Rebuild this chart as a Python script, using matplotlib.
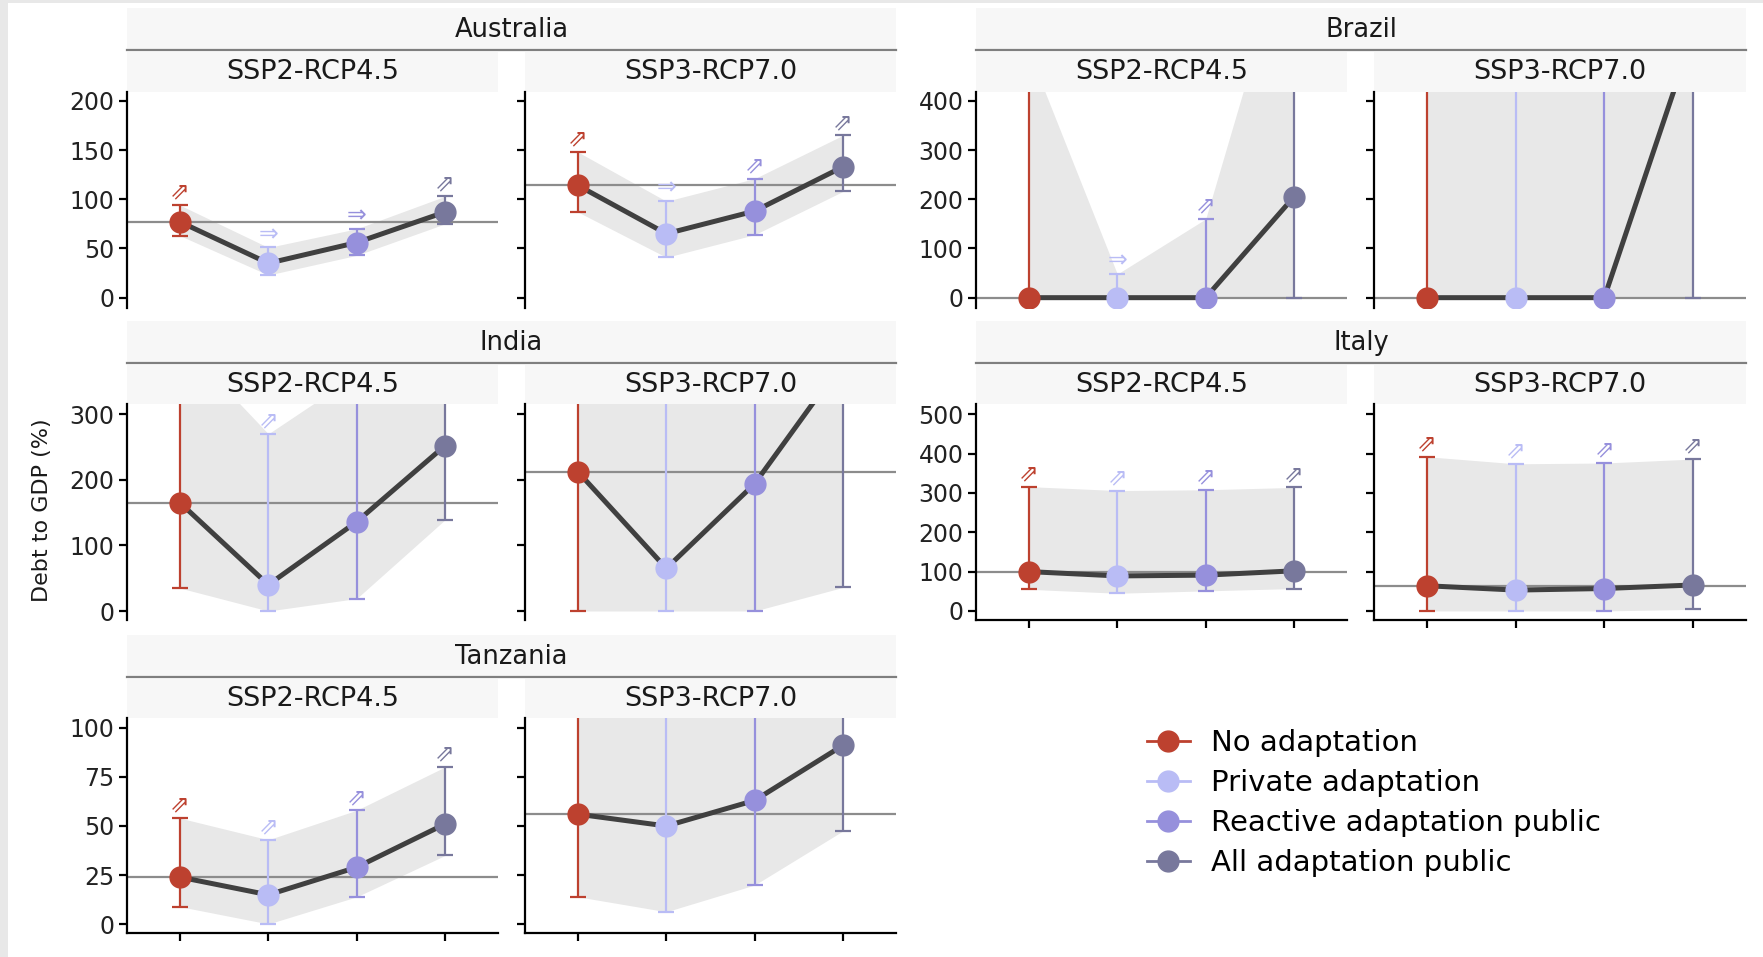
import matplotlib
matplotlib.use('Agg')
import matplotlib.pyplot as plt
from matplotlib.patches import Rectangle
from matplotlib.lines import Line2D

# Datos (deuda / PIB en %)
strategies = ['No adaptation', 'Private adaptation', 'Reactive adaptation public', 'All adaptation public']
colors = ['#bd412f', '#b9bcf5', '#9690dc', '#78789c']
scenarios = ['SSP2-RCP4.5', 'SSP3-RCP7.0']
countries = ['Australia', 'Brazil', 'India', 'Italy', 'Tanzania']

# cada lista: [SSP2-RCP4.5, SSP3-RCP7.0] x 4 estrategias
australia_median = [[77, 35, 56, 87], [114, 65, 88, 133]]
australia_lower = [[63, 23, 43, 75], [87, 41, 64, 108]]
australia_upper = [[94, 51, 70, 103], [148, 98, 121, 165]]
australia_arrow = [['⇗', '⇒', '⇒', '⇗'], ['⇗', '⇒', '⇗', '⇗']]

brazil_median = [[0, 0, 0, 205], [0, 0, 0, 535]]
brazil_lower = [[0, 0, 0, 0], [0, 0, 0, 0]]
brazil_upper = [[500, 48, 160, 770], [900, 850, 870, 1200]]
brazil_arrow = [['', '⇒', '⇗', ''], ['', '', '', '']]

india_median = [[165, 40, 136, 252], [212, 65, 194, 380]]
india_lower = [[35, 0, 19, 139], [0, 0, 0, 36]]
india_upper = [[412, 270, 360, 450], [500, 480, 520, 600]]
india_arrow = [['', '⇗', '', ''], ['', '', '', '']]

italy_median = [[100, 89, 91, 102], [64, 53, 57, 66]]
italy_lower = [[55, 45, 51, 57], [0, 0, 0, 4]]
italy_upper = [[316, 306, 308, 314], [392, 374, 376, 386]]
italy_arrow = [['⇗', '⇗', '⇗', '⇗'], ['⇗', '⇗', '⇗', '⇗']]

tanzania_median = [[24, 15, 29, 51], [56, 50, 63, 91]]
tanzania_lower = [[9, 0.2, 14, 35], [14, 6.4, 20, 47.5]]
tanzania_upper = [[54, 43, 58, 80], [130, 140, 150, 160]]
tanzania_arrow = [['⇗', '⇗', '⇗', '⇗'], ['', '', '', '']]

y_limits = {'Australia': (-10.5, 209), 'Brazil': (-21, 418), 'India': (-13.7, 315.5),
            'Italy': (-23, 526), 'Tanzania': (-4.4, 104.9)}
y_ticks = {'Australia': [0, 50, 100, 150, 200], 'Brazil': [0, 100, 200, 300, 400],
           'India': [0, 100, 200, 300], 'Italy': [0, 100, 200, 300, 400, 500],
           'Tanzania': [0, 25, 50, 75, 100]}

data = {
    'Australia': (australia_median, australia_lower, australia_upper, australia_arrow),
    'Brazil': (brazil_median, brazil_lower, brazil_upper, brazil_arrow),
    'India': (india_median, india_lower, india_upper, india_arrow),
    'Italy': (italy_median, italy_lower, italy_upper, italy_arrow),
    'Tanzania': (tanzania_median, tanzania_lower, tanzania_upper, tanzania_arrow),
}

# Layout en pixeles (desde arriba a la izquierda)
W, H = 1763, 957
col_x = [(127, 498, 525, 896), (976, 1347, 1374, 1746)]
row_y = [(8, 50, 52, 92, 308), (321, 363, 365, 404, 620), (635, 677, 679, 718, 933)]
place = {'Australia': (0, 0), 'Brazil': (0, 1), 'India': (1, 0), 'Italy': (1, 1), 'Tanzania': (2, 0)}
with_xaxis = ['Italy', 'Tanzania']

fig = plt.figure(figsize=(W / 100, H / 100), dpi=100)
fig.patch.set_facecolor('white')


def frac(x0, y0, x1, y1):
    return [x0 / W, 1 - y1 / H, (x1 - x0) / W, (y1 - y0) / H]


def add_box(x0, y0, x1, y1):
    r = Rectangle((x0 / W, 1 - y1 / H), (x1 - x0) / W, (y1 - y0) / H,
                  transform=fig.transFigure, facecolor='#f7f7f7', edgecolor='none', zorder=0)
    fig.add_artist(r)


# marco gris a la izquierda y arriba
fig.add_artist(Rectangle((0, 0), 8 / W, 1, transform=fig.transFigure, facecolor='#e8e8e8', edgecolor='none'))
fig.add_artist(Rectangle((0, 1 - 3 / H), 1, 3 / H, transform=fig.transFigure, facecolor='#e8e8e8', edgecolor='none'))

xpos = [1, 2, 3, 4]

for country in countries:
    r, c = place[country]
    xa0, xa1, xb0, xb1 = col_x[c]
    s0, s1, ss0, ss1, pb = row_y[r]
    # tira del pais
    add_box(xa0, s0, xb1, s1)
    fig.add_artist(Line2D([xa0 / W, xb1 / W], [1 - s1 / H, 1 - s1 / H], transform=fig.transFigure,
                          color='#7f7f7f', lw=1.6))
    fig.text((xa0 + xb1) / 2 / W, 1 - (s0 + s1 + 2) / 2 / H, country, ha='center', va='center',
             fontsize=18.5, color='#1a1a1a')

    med, lo, up, arr = data[country]
    for k, (x0, x1) in enumerate([(xa0, xa1), (xb0, xb1)]):
        add_box(x0, ss0, x1, ss1)
        fig.text((x0 + x1) / 2 / W, 1 - (ss0 + ss1) / 2 / H, scenarios[k], ha='center', va='center',
                 fontsize=19.5, color='#1a1a1a')
        ax = fig.add_axes(frac(x0, ss1, x1, pb))
        ax.set_facecolor('none')

        ax.fill_between(xpos, lo[k], up[k], color='#e8e8e8', lw=0, zorder=1)
        ax.axhline(med[k][0], color='#8c8c8c', lw=1.6, zorder=2)
        for i in range(4):
            ax.errorbar(xpos[i], med[k][i], yerr=[[med[k][i] - lo[k][i]], [up[k][i] - med[k][i]]],
                        fmt='none', ecolor=colors[i], elinewidth=1.6, capsize=6, capthick=1.6, zorder=3)
        ax.plot(xpos, med[k], color='#404040', lw=3.6, zorder=4, solid_capstyle='butt')
        for i in range(4):
            ax.plot(xpos[i], med[k][i], 'o', color=colors[i], markersize=15, zorder=5)
            if arr[k][i]:
                ax.annotate(arr[k][i], xy=(xpos[i], up[k][i]), xytext=(0, 1), textcoords='offset points',
                            ha='center', va='bottom', color=colors[i], fontsize=17, zorder=6)

        ax.set_xlim(0.4, 4.6)
        ax.set_ylim(*y_limits[country])
        ax.set_yticks(y_ticks[country])
        ax.spines['top'].set_visible(False)
        ax.spines['right'].set_visible(False)
        ax.spines['left'].set_linewidth(1.6)
        ax.tick_params(axis='y', length=6, width=1.6, labelsize=17, pad=3, labelcolor='#222222')
        if k == 1:
            ax.set_yticklabels([])
        if country in with_xaxis:
            ax.spines['bottom'].set_linewidth(1.6)
            ax.set_xticks(xpos)
            ax.set_xticklabels([])
            ax.tick_params(axis='x', length=6, width=1.6)
        else:
            ax.spines['bottom'].set_visible(False)
            ax.set_xticks([])

fig.text(42 / W, 1 - 510 / H, 'Debt to GDP (%)', rotation=90, ha='center', va='center',
         fontsize=16, color='#1a1a1a')

handles = [Line2D([], [], color=colors[i], marker='o', markersize=15, lw=2) for i in range(4)]
fig.legend(handles, strategies, loc='upper left', bbox_to_anchor=(1147 / W, 1 - 729 / H),
           frameon=False, fontsize=21, handlelength=1.47, handletextpad=0.72, labelspacing=0.41,
           borderpad=0, borderaxespad=0)

plt.savefig('out.png', dpi=100)
